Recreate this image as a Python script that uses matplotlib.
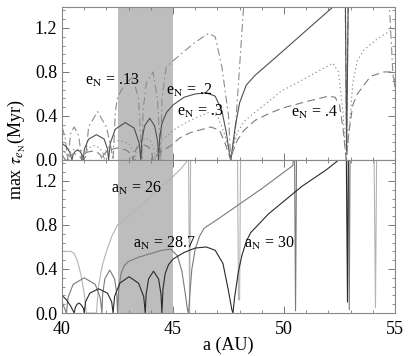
import matplotlib
matplotlib.use("Agg")
import matplotlib.pyplot as plt
from matplotlib.ticker import MultipleLocator

plt.rcParams['font.family'] = ['Liberation Serif', 'DejaVu Serif']
plt.rcParams['mathtext.fontset'] = 'stix'

# ---- top panel: different Neptune eccentricities ----
a_e13 = [40.0, 40.15, 40.25, 40.4, 40.55, 40.75, 40.9, 41.05, 41.2, 41.6, 42.0, 42.2, 42.3,
         42.4, 42.5, 42.86, 43.2, 43.45, 43.6, 43.65, 43.8, 44.1, 44.3, 44.45, 44.5, 44.7,
         45.0, 45.4, 46.0, 46.6, 46.9, 47.2, 47.5, 47.6, 47.8, 47.95, 48.2,
         52.75, 52.82, 52.9, 54.7, 54.9, 55.0]
tau_e13 = [0.30, 0.2, 0.0, 0.25, 0.3, 0.22, 0.0, 0.0, 0.3, 0.44, 0.3, 0.12, 0.0,
           0.43, 0.57, 0.7, 0.75, 0.55, 0.0, 0.45, 0.7, 0.8, 0.55, 0.0, 0.55, 0.85,
           0.9, 0.97, 1.07, 1.15, 1.12, 0.85, 0.4, 0.0, 0.25, 0.7, 1.45,
           1.6, 0.08, 1.6, 1.6, 0.8, 0.65]

a_e2 = [40.0, 40.2, 40.35, 40.45, 40.5, 40.6, 40.7, 40.8, 40.9, 40.95,
        41.01, 41.2, 41.55, 41.9, 42.05, 42.1,
        42.17, 42.4, 42.85, 43.25, 43.48, 43.55,
        43.59, 43.72, 43.95, 44.17, 44.31, 44.35,
        44.4, 44.5, 44.7, 45.0, 45.5, 46.0, 46.5, 46.9, 47.2, 47.4, 47.55, 47.6,
        47.67, 47.8, 48.0, 48.3, 48.7, 49.5, 50.4, 51.3, 52.2, 52.6,
        52.76, 52.82, 52.9, 55.0]
tau_e2 = [0.15, 0.12, 0.07, 0.0, 0.05, 0.08, 0.09, 0.08, 0.05, 0.0,
          0.10, 0.19, 0.23, 0.19, 0.10, 0.0,
          0.15, 0.28, 0.34, 0.29, 0.15, 0.0,
          0.17, 0.31, 0.38, 0.31, 0.17, 0.0,
          0.2, 0.33, 0.43, 0.5, 0.57, 0.6, 0.61, 0.58, 0.45, 0.25, 0.05, 0.0,
          0.1, 0.3, 0.52, 0.68, 0.77, 0.91, 1.07, 1.23, 1.39, 1.46,
          1.6, 0.05, 1.6, 1.6]

a_e3 = [40.0, 40.2, 40.3, 40.34, 40.45, 40.65, 40.85, 40.96, 41.0,
        41.05, 41.2, 41.45, 41.7, 41.85, 41.9,
        41.97, 42.2, 42.6, 43.0, 43.23, 43.3,
        43.35, 43.5, 43.75, 44.0, 44.15, 44.2,
        44.3, 44.5, 45.0, 45.5, 46.0, 46.6, 47.0, 47.3, 47.55, 47.6,
        47.7, 47.9, 48.2, 48.6, 49.3, 49.9, 50.4, 51.3, 52.2, 52.45, 52.65, 52.78, 52.82,
        52.95, 53.1, 53.3, 53.6, 54.2, 55.0]
tau_e3 = [0.1, 0.05, 0.0, 0.05, 0.09, 0.1, 0.09, 0.05, 0.0,
          0.06, 0.11, 0.13, 0.11, 0.06, 0.0,
          0.08, 0.15, 0.18, 0.15, 0.08, 0.0,
          0.09, 0.17, 0.2, 0.17, 0.09, 0.0,
          0.1, 0.18, 0.27, 0.33, 0.38, 0.43, 0.4, 0.25, 0.05, 0.0,
          0.1, 0.25, 0.35, 0.42, 0.53, 0.63, 0.68, 0.78, 0.88, 0.8, 0.45, 0.05, 0.0,
          0.3, 0.7, 0.9, 1.0, 1.1, 1.2]

a_e4 = [40.0, 40.15, 40.2, 40.35, 40.55, 40.75, 40.85, 40.9,
        40.95, 41.1, 41.35, 41.6, 41.75, 41.8,
        41.87, 42.1, 42.5, 42.9, 43.13, 43.2,
        43.25, 43.4, 43.65, 43.9, 44.05, 44.1,
        44.4, 44.9, 45.3, 45.8, 46.7, 47.1, 47.35, 47.55, 47.6,
        47.7, 47.9, 48.2, 48.7, 49.3, 49.9, 51.0, 52.0, 52.3, 52.5, 52.68, 52.8,
        52.92, 53.1, 53.3, 53.9, 54.5, 54.8, 55.0]
tau_e4 = [0.05, 0.0, 0.0, 0.04, 0.06, 0.04, 0.02, 0.0,
          0.04, 0.07, 0.08, 0.07, 0.04, 0.0,
          0.05, 0.09, 0.11, 0.09, 0.05, 0.0,
          0.06, 0.12, 0.14, 0.12, 0.06, 0.0,
          0.07, 0.13, 0.2, 0.25, 0.3, 0.27, 0.15, 0.03, 0.0,
          0.08, 0.18, 0.27, 0.36, 0.42, 0.47, 0.53, 0.58, 0.57, 0.5, 0.25, 0.0,
          0.25, 0.5, 0.6, 0.76, 0.8, 0.8, 0.72]

# ---- bottom panel: different Neptune semimajor axes ----
a_a26 = [40.0, 40.4, 40.55, 40.7, 40.85, 41.0, 41.1,
         41.55, 41.65, 41.8, 42.0, 42.25, 42.5, 43.0, 43.5, 44.0, 44.5, 45.0, 45.4, 45.7,
         45.75, 45.8, 47.9, 47.95, 48.0, 48.05, 54.05, 54.12, 54.18, 55.0]
tau_a26 = [0.56, 0.56, 0.54, 0.47, 0.35, 0.18, 0.0,
           0.0, 0.25, 0.42, 0.56, 0.7, 0.8, 0.88, 0.97, 1.06, 1.15, 1.24, 1.32, 1.4,
           0.0, 1.6, 1.6, 0.12, 0.12, 1.6, 1.6, 0.05, 1.6, 1.6]

a_a287 = [40.0, 40.2,
          40.27, 40.5, 41.0, 41.5, 41.72, 41.8,
          41.83, 41.93, 42.15, 42.37, 42.47, 42.5,
          42.55, 42.65, 42.8, 43.0, 43.5, 44.0, 44.5, 44.9, 45.2, 45.4, 45.55, 45.65, 45.7,
          45.75, 45.85, 46.0, 46.2, 46.4, 47.0, 48.0, 49.0, 50.0, 50.4, 50.47,
          50.52, 50.57, 52.9, 52.94, 52.98, 55.0]
tau_a287 = [0.1, 0.0,
            0.14, 0.26, 0.32, 0.26, 0.14, 0.0,
            0.17, 0.31, 0.39, 0.31, 0.17, 0.0,
            0.2, 0.35, 0.43, 0.47, 0.51, 0.54, 0.57, 0.58, 0.52, 0.38, 0.18, 0.03, 0.0,
            0.15, 0.4, 0.58, 0.7, 0.77, 0.85, 0.99, 1.13, 1.28, 1.34, 1.6,
            0.02, 1.6, 1.6, 0.03, 1.6, 1.6]

a_a30 = [40.0, 40.2, 40.4, 40.55, 40.6, 40.68, 40.78, 40.88, 40.97, 41.0,
         41.06, 41.25, 41.65, 42.05, 42.24, 42.3,
         42.37, 42.6, 43.02, 43.45, 43.68, 43.75,
         43.79, 43.9, 44.12, 44.35, 44.46, 44.5,
         44.55, 44.65, 44.8, 45.0, 45.5, 46.0, 46.5, 46.9, 47.25, 47.5, 47.65, 47.7,
         47.78, 47.95, 48.1, 48.3, 48.5, 49.3, 50.8, 51.9, 52.4, 52.7,
         52.8, 52.86, 52.9, 55.0]
tau_a30 = [0.16, 0.12, 0.06, 0.0, 0.05, 0.08, 0.09, 0.07, 0.04, 0.0,
           0.1, 0.18, 0.22, 0.18, 0.1, 0.0,
           0.15, 0.27, 0.33, 0.27, 0.15, 0.0,
           0.17, 0.31, 0.38, 0.31, 0.17, 0.0,
           0.22, 0.36, 0.44, 0.49, 0.55, 0.59, 0.6, 0.57, 0.45, 0.2, 0.03, 0.0,
           0.15, 0.38, 0.52, 0.65, 0.73, 0.9, 1.15, 1.3, 1.38, 1.45,
           1.6, 0.1, 1.6, 1.6]

W, H = 415, 356
fig = plt.figure(figsize=(W / 100, H / 100), dpi=100)
ax1 = fig.add_axes([62 / W, 1 - 160 / H, 333 / W, 153 / H])
ax2 = fig.add_axes([62 / W, 1 - 313 / H, 333 / W, 153 / H])

lw = 0.8
ax1.plot(a_e13, tau_e13, color='#8c8c8c', lw=lw, dashes=(7, 3, 1.5, 3))
ax1.plot(a_e2, tau_e2, color='#505050', lw=lw)
ax1.plot(a_e3, tau_e3, color='#8c8c8c', lw=lw, dashes=(1.2, 2.5))
ax1.plot(a_e4, tau_e4, color='#7c7c7c', lw=lw, dashes=(7, 4))

ax2.plot(a_a26, tau_a26, color='#b4b4b4', lw=lw)
ax2.plot(a_a287, tau_a287, color='#7a7a7a', lw=lw)
ax2.plot(a_a30, tau_a30, color='#2a2a2a', lw=lw)

fs = 13
for ax in (ax1, ax2):
    ax.axvspan(42.5, 45.0, color='#bdbdbd', lw=0, zorder=0)
    ax.set_xlim(40, 55)
    ax.set_ylim(0, 1.39)
    ax.xaxis.set_major_locator(MultipleLocator(5))
    ax.xaxis.set_minor_locator(MultipleLocator(1))
    ax.yaxis.set_major_locator(MultipleLocator(0.4))
    ax.yaxis.set_minor_locator(MultipleLocator(0.08))
    ax.tick_params(which='both', direction='in', top=True, right=True,
                   labelsize=fs, color='#777777')
    ax.tick_params(which='major', length=5, width=0.7)
    ax.tick_params(which='minor', length=2.5, width=0.6)
    for s in ax.spines.values():
        s.set_color('#888888')
        s.set_linewidth(0.8)
    ax.set_yticks([0.0, 0.4, 0.8, 1.2])
    ax.set_yticklabels(['0.0', '0.4', '0.8', '1.2'])

ax1.tick_params(labelbottom=False)
ax2.tick_params(axis='x', pad=6)

tfs = 11.5
ax1.text(41.05, 0.72, r'e$_{\rm N}$ = .13', fontsize=tfs, va='center')
ax1.text(44.7, 0.63, r'e$_{\rm N}$ = .2', fontsize=tfs, va='center')
ax1.text(45.2, 0.44, r'e$_{\rm N}$ = .3', fontsize=tfs, va='center')
ax1.text(50.3, 0.43, r'e$_{\rm N}$ = .4', fontsize=tfs, va='center')

ax2.text(42.2, 1.13, r'a$_{\rm N}$ = 26', fontsize=tfs, va='center')
ax2.text(43.2, 0.63, r'a$_{\rm N}$ = 28.7', fontsize=tfs, va='center')
ax2.text(48.2, 0.63, r'a$_{\rm N}$ = 30', fontsize=tfs, va='center')

fig.text(228 / W, 1 - 345 / H, 'a (AU)', fontsize=fs, ha='center', va='center')
fig.text(16 / W, 1 - 150 / H, r'max $\tau_{e_{\rm N}}$(Myr)', fontsize=fs,
         rotation=90, ha='center', va='center')

fig.savefig('out.png', dpi=100)
